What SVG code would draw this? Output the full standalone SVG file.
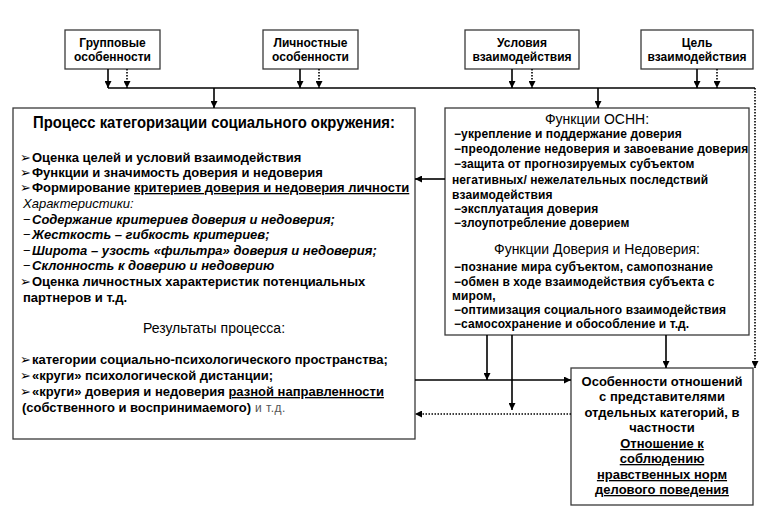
<svg xmlns="http://www.w3.org/2000/svg" width="768" height="509" viewBox="0 0 768 509">
<defs>
<marker id="ah" viewBox="0 0 10 10" refX="10" refY="5" markerWidth="7" markerHeight="7" markerUnits="userSpaceOnUse" orient="auto"><path d="M0,0 L10,5 L0,10 z" fill="#000"/></marker>
</defs>
<style>
.box{fill:#fff;stroke:#3a3a3a;stroke-width:1.3}
.ln{fill:none;stroke:#000;stroke-width:1.6}
.dt{fill:none;stroke:#000;stroke-width:1.6;stroke-dasharray:1.5 1.5}
text{font-family:"Liberation Sans","DejaVu Sans",Arial,sans-serif;fill:#000}
.tb{font-size:12px;font-weight:bold;text-anchor:middle}
.h{font-size:16.5px;font-weight:bold;text-anchor:middle}
.l{font-size:13px;font-weight:bold}
.it{font-size:13px;font-style:italic}
.li{font-size:13px;font-weight:bold;font-style:italic}
.rg{font-size:14px;text-anchor:middle}
.r{font-size:12px;font-weight:bold;letter-spacing:0.1px}
.br{font-size:13px;font-weight:bold;text-anchor:middle}
.u{text-decoration:underline}
.ar{font-weight:normal;font-size:13px;font-family:"DejaVu Sans",sans-serif}
.ds{font-weight:normal;font-style:normal}
.gr{font-weight:normal;font-size:12px;fill:#555;letter-spacing:0.5px}
</style>
<rect x="0" y="0" width="768" height="509" fill="#fff"/>

<g id="group-features">
<rect class="box" x="65" y="30" width="95" height="39"/>
<text class="tb" x="112.5" y="47">Групповые</text>
<text class="tb" x="112.5" y="61">особенности</text>
</g>
<g id="personal-features">
<rect class="box" x="263" y="30" width="95" height="39"/>
<text class="tb" x="310.5" y="47">Личностные</text>
<text class="tb" x="310.5" y="61">особенности</text>
</g>
<g id="conditions">
<rect class="box" x="465" y="30" width="114" height="39"/>
<text class="tb" x="522" y="47">Условия</text>
<text class="tb" x="522" y="61">взаимодействия</text>
</g>
<g id="goal">
<rect class="box" x="641" y="30" width="112" height="39"/>
<text class="tb" x="697" y="47">Цель</text>
<text class="tb" x="697" y="61">взаимодействия</text>
</g>

<g id="categorization-process">
<rect class="box" x="13" y="108" width="402" height="331"/>
<text class="h" x="214" y="128" textLength="362" lengthAdjust="spacingAndGlyphs">Процесс категоризации социального окружения:</text>
<text class="l" y="162"><tspan class="ar" x="20">➢</tspan><tspan x="32">Оценка целей и условий взаимодействия</tspan></text>
<text class="l" y="177"><tspan class="ar" x="20">➢</tspan><tspan x="32">Функции и значимость доверия и недоверия</tspan></text>
<text class="l" y="192"><tspan class="ar" x="20">➢</tspan><tspan x="32">Формирование </tspan><tspan class="u">критериев доверия и недоверия личности</tspan></text>
<text class="it" x="23" y="208">Характеристики:</text>
<text class="li" y="224"><tspan class="ds" x="23">−</tspan><tspan x="32">Содержание критериев доверия и недоверия;</tspan></text>
<text class="li" y="239"><tspan class="ds" x="23">−</tspan><tspan x="32">Жесткость – гибкость критериев;</tspan></text>
<text class="li" y="255"><tspan class="ds" x="23">−</tspan><tspan x="32">Широта – узость «фильтра» доверия и недоверия;</tspan></text>
<text class="li" y="270"><tspan class="ds" x="23">−</tspan><tspan x="32">Склонность к доверию и недоверию</tspan></text>
<text class="l" y="286"><tspan class="ar" x="20">➢</tspan><tspan x="32">Оценка личностных характеристик потенциальных</tspan></text>
<text class="l" x="23" y="302">партнеров и т.д.</text>
<text class="rg" x="214" y="333">Результаты процесса:</text>
<text class="l" y="364"><tspan class="ar" x="20">➢</tspan><tspan x="32">категории социально-психологического пространства;</tspan></text>
<text class="l" y="380"><tspan class="ar" x="20">➢</tspan><tspan x="32">«круги» психологической дистанции;</tspan></text>
<text class="l" y="396"><tspan class="ar" x="20">➢</tspan><tspan x="32">«круги» доверия и недоверия  </tspan><tspan class="u">разной направленности</tspan></text>
<text class="l" x="22" y="412">(собственного и воспринимаемого)<tspan class="gr"> и т.д.</tspan></text>
</g>

<g id="functions">
<rect class="box" x="445" y="108" width="304" height="227"/>
<text class="rg" x="597" y="124">Функции ОСНН:</text>
<text class="r" x="454" y="138">−укрепление и поддержание доверия</text>
<text class="r" x="454" y="153">−преодоление недоверия и завоевание доверия</text>
<text class="r" x="454" y="168">−защита от прогнозируемых субъектом</text>
<text class="r" x="452" y="184">негативных/ нежелательных последствий</text>
<text class="r" x="452" y="199">взаимодействия</text>
<text class="r" x="454" y="213">−эксплуатация доверия</text>
<text class="r" x="454" y="227">−злоупотребление доверием</text>
<text class="rg" x="597" y="254">Функции Доверия и Недоверия:</text>
<text class="r" x="454" y="271">−познание мира субъектом, самопознание</text>
<text class="r" x="454" y="286">−обмен в ходе взаимодействия субъекта с</text>
<text class="r" x="452" y="300">миром,</text>
<text class="r" x="454" y="314">−оптимизация социального взаимодействия</text>
<text class="r" x="454" y="328">−самосохранение и обособление и т.д.</text>
</g>

<g id="relations">
<rect class="box" x="571" y="368" width="182" height="137"/>
<text class="br" x="662" y="386">Особенности отношений</text>
<text class="br" x="662" y="401">с представителями</text>
<text class="br" x="662" y="417">отдельных категорий, в</text>
<text class="br" x="662" y="432">частности</text>
<text class="br u" x="662" y="448">Отношение к</text>
<text class="br u" x="662" y="463">соблюдению</text>
<text class="br u" x="662" y="479">нравственных норм</text>
<text class="br u" x="662" y="494">делового поведения</text>
</g>

<g id="connectors">
<path class="ln" d="M108,69 V88" marker-end="url(#ah)"/>
<path class="dt" d="M127,69 V88" marker-end="url(#ah)"/>
<path class="ln" d="M300,69 V88" marker-end="url(#ah)"/>
<path class="dt" d="M319,69 V88" marker-end="url(#ah)"/>
<path class="ln" d="M512,69 V88" marker-end="url(#ah)"/>
<path class="dt" d="M532,69 V88" marker-end="url(#ah)"/>
<path class="ln" d="M697,69 V88" marker-end="url(#ah)"/>
<path class="dt" d="M717,69 V88" marker-end="url(#ah)"/>
<path class="ln" d="M108,88 H755"/>
<path class="ln" d="M214,88 V108" marker-end="url(#ah)"/>
<path class="ln" d="M598,88 V108" marker-end="url(#ah)"/>
<path class="dt" d="M755,88 V368" marker-end="url(#ah)"/>
<path class="ln" d="M445,179 H415" marker-end="url(#ah)"/>
<path class="ln" d="M415,380 H571" marker-end="url(#ah)"/>
<path class="ln" d="M487,335 V380" marker-end="url(#ah)"/>
<path class="ln" d="M512,335 V410" marker-end="url(#ah)"/>
<path class="ln" d="M666,335 V368" marker-end="url(#ah)"/>
<path class="dt" d="M571,414 H415" marker-end="url(#ah)"/>
</g>
</svg>
